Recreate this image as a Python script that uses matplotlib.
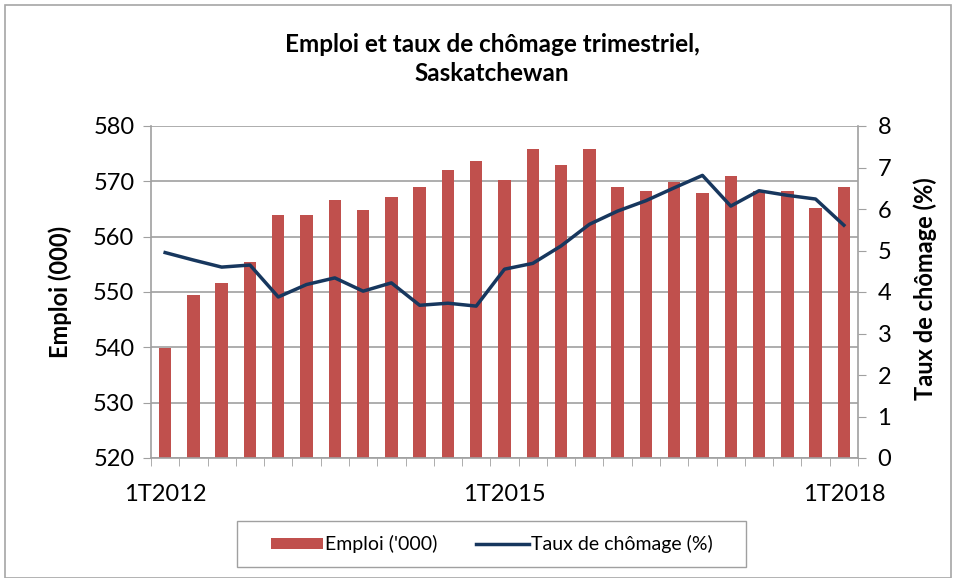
import numpy as np
import matplotlib
matplotlib.use("Agg")
import matplotlib.pyplot as plt
from matplotlib.patches import Rectangle

plt.rcParams['font.family'] = ['Lato', 'DejaVu Sans']

# trimestres 1T2012 .. 1T2018
quarters = [f"{q}T{y}" for y in range(2012, 2019) for q in range(1, 5)][:25]
emploi = [539.8, 549.5, 551.7, 555.5, 564.0, 564.0, 566.7, 564.8, 567.1, 569.0,
          572.1, 573.6, 570.2, 575.9, 572.9, 575.9, 569.0, 568.2, 569.8, 567.9,
          570.9, 568.3, 568.2, 565.2, 569.0]
chomage = [4.95, 4.77, 4.60, 4.65, 3.88, 4.18, 4.34, 4.02, 4.22, 3.68,
           3.73, 3.66, 4.55, 4.69, 5.11, 5.63, 5.95, 6.20, 6.51, 6.81,
           6.07, 6.44, 6.33, 6.24, 5.61]
shown_labels = ["1T2012", "1T2015", "1T2018"]

bar_color = "#C0504D"
line_color = "#17375E"
grid_color = "#A0A0A0"

W, H = 957, 578
fig = plt.figure(figsize=(W / 100, H / 100), dpi=100)
ax = fig.add_axes([151 / W, 1 - 458 / H, 707 / W, 332 / H])
ax2 = ax.twinx()

x = np.arange(len(quarters))
b = ax.bar(x, emploi, width=0.44, color=bar_color, zorder=2)
l, = ax2.plot(x, chomage, color=line_color, lw=2.5)

ax.set_xlim(-0.5, len(quarters) - 0.5)
ax.set_ylim(520, 580)
ax.set_yticks(range(520, 581, 10))
ax2.set_ylim(0, 8)
ax2.set_yticks(range(0, 9))

ax.yaxis.grid(True, color=grid_color, lw=1.2, zorder=0)
ax.set_axisbelow(True)

idx = [quarters.index(s) for s in shown_labels]
ax.set_xticks(idx)
ax.set_xticklabels(shown_labels)
ax.set_xticks(np.arange(-0.5, len(quarters)), minor=True)
ax.tick_params(axis='x', which='major', length=0, pad=19, labelsize=17)
ax.tick_params(axis='x', which='minor', length=6, color=grid_color, direction='out')
ax.tick_params(axis='y', length=6, color=grid_color, labelsize=17, pad=6)
ax2.tick_params(axis='y', length=6, color=grid_color, labelsize=17, pad=8)

for a in (ax, ax2):
    for s in a.spines.values():
        s.set_visible(False)
for side in ('left', 'bottom'):
    ax.spines[side].set_visible(True)
    ax.spines[side].set_color(grid_color)
    ax.spines[side].set_linewidth(1.2)
ax2.spines['right'].set_visible(True)
ax2.spines['right'].set_color(grid_color)
ax2.spines['right'].set_linewidth(1.2)

ax.set_ylabel("Emploi (000)", fontsize=17, fontweight='bold')
ax.yaxis.set_label_coords(-0.112, 0.5)
ax2.set_ylabel("Taux de chômage (%)", fontsize=17, fontweight='bold')
ax2.yaxis.set_label_coords(1.078, 0.51)

fig.text(0.514, 0.898, "Emploi et taux de chômage trimestriel,\nSaskatchewan",
         ha='center', va='center', fontsize=17.5, fontweight='bold', linespacing=1.35)

leg = fig.legend([b, l], ["Emploi ('000)", "Taux de chômage (%)"],
                 loc='center', bbox_to_anchor=(491.5 / W, 1 - 544 / H), ncol=2,
                 fontsize=14, frameon=False,
                 handlelength=2.7, handleheight=0.5, handletextpad=0.1,
                 columnspacing=2.0)

# cadre de la légende et bordure du graphique
fig.patches.append(Rectangle((237 / W, 1 - 567 / H), 509 / W, 46 / H,
                             transform=fig.transFigure, fill=False,
                             edgecolor=grid_color, lw=1.0))
fig.patches.append(Rectangle((0.005, 0.0), 0.989, 0.991, transform=fig.transFigure,
                             fill=False, edgecolor="#A6A6A6", lw=1.2))

fig.savefig("out.png", dpi=100)
